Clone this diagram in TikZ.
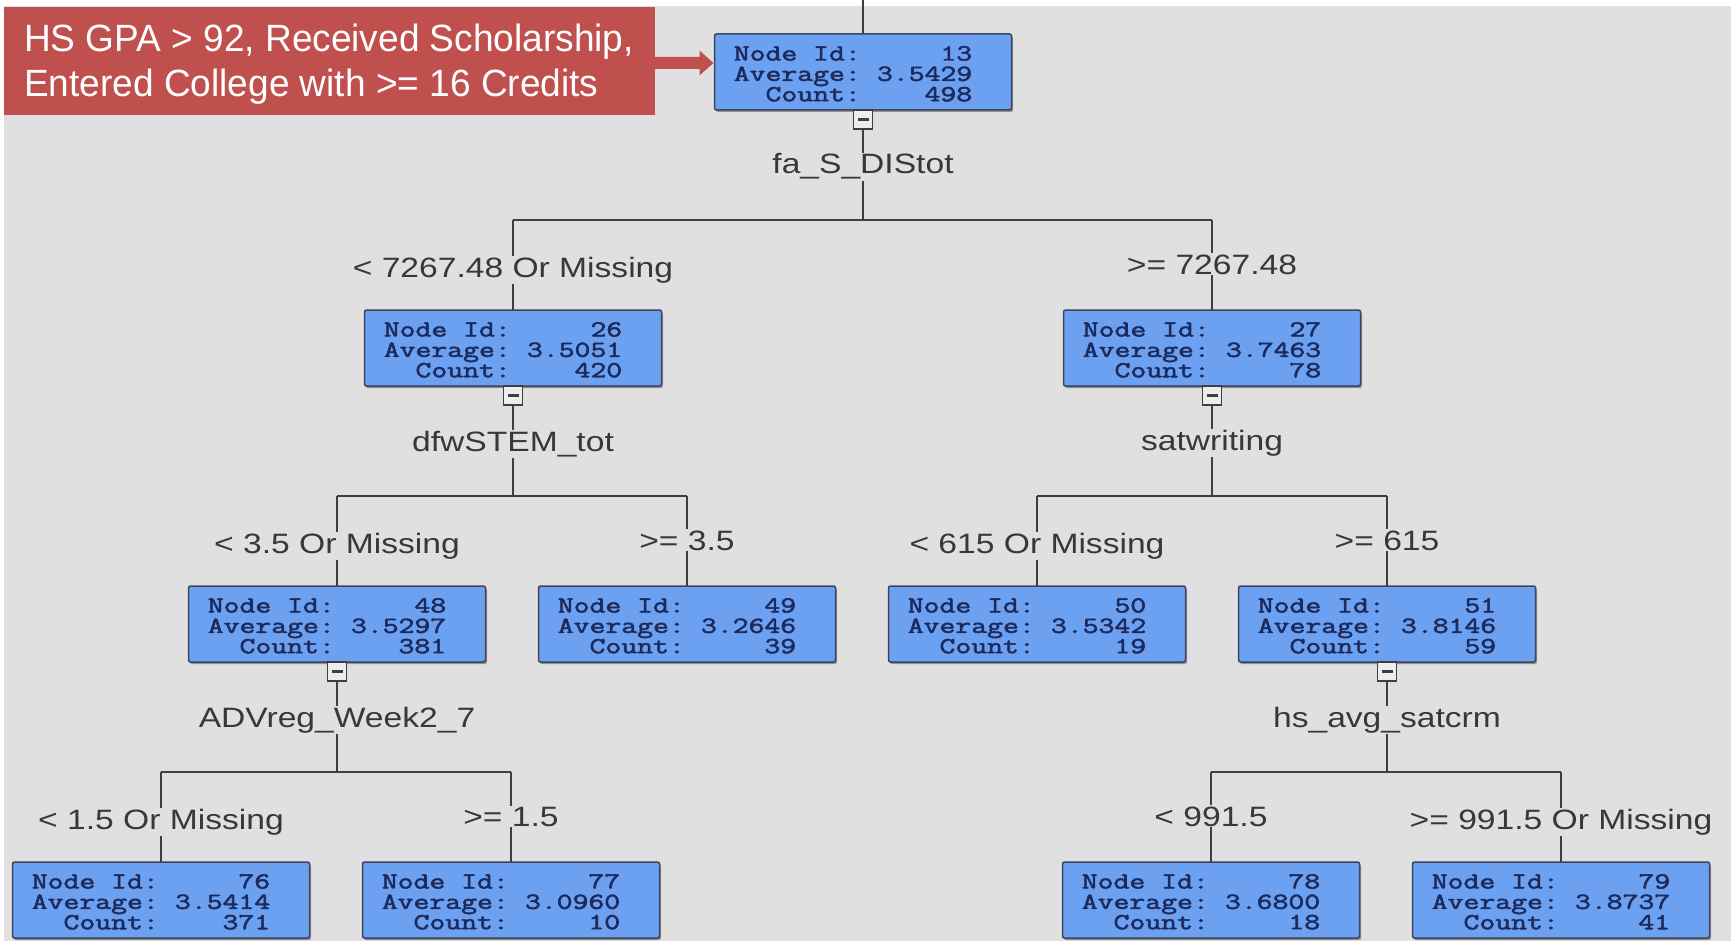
\documentclass[tikz,border=0pt]{standalone}
\usepackage{fontspec}
\usepackage{graphicx}
\usetikzlibrary{shadows}
\newfontfamily\lblfont{Liberation Sans}
\newfontfamily\boxfont{Latin Modern Mono}[FakeBold=2]

\definecolor{bggray}{HTML}{E0E0E0}
\definecolor{boxblue}{HTML}{6CA0F0}
\definecolor{boxedge}{HTML}{3A4660}
\definecolor{boxtext}{HTML}{1C2A5C}
\definecolor{linegray}{HTML}{3F3F3F}
\definecolor{lbltext}{HTML}{383838}
\definecolor{calloutred}{HTML}{C0504D}

% statistics block of a tree node
\newcommand{\stat}[3]{\scalebox{1.34}[1]{\begin{tabular}[t]{@{}r@{\hspace{0.525em}}r@{}}Node Id:&#1\\Average:&#2\\Count:&#3\end{tabular}}\hspace*{20pt}}
% stretched label text
\newcommand{\lb}[1]{\scalebox{1.2}[1]{#1}}

\begin{document}
\begin{tikzpicture}[x=1pt,y=-1pt,
  tbox/.style={rectangle, rounded corners=2pt, minimum width=297pt, minimum height=76pt,
    inner xsep=0pt, inner ysep=0pt, outer sep=0pt, text height=26.5pt, text depth=49.5pt,
    fill=boxblue, draw=boxedge, line width=1.5pt,
    text=boxtext, font=\boxfont\fontsize{23}{20}\selectfont,
    drop shadow={shadow xshift=1.5pt, shadow yshift=-2pt, fill=black, opacity=0.35}},
  minus/.style={rectangle, minimum width=19pt, minimum height=19pt, inner sep=0pt,
    outer sep=0pt, fill=white!93!black, draw=linegray, line width=1.8pt,
    path picture={\fill[linegray] ([xshift=-5.5pt,yshift=-1.2pt]path picture bounding box.center)
      rectangle ([xshift=5.5pt,yshift=1.2pt]path picture bounding box.center);}},
  lbl/.style={anchor=base, inner sep=1pt, fill=bggray, text=lbltext,
    font=\lblfont\fontsize{28}{30}\selectfont},
  conn/.style={draw=linegray, line width=2.5pt},
  callout/.style={rectangle, fill=calloutred, text=white, outer sep=0pt,
    font=\lblfont\fontsize{38}{45}\selectfont}]

\useasboundingbox (0,0) rectangle (1731,941);
\fill[white] (0,0) rectangle (1731,941);
\fill[bggray] (4,6) rectangle (1731,941);

% tree nodes
\node[tbox] (n13) at (863,72)   {\stat{13}{3.5429}{498}};
\node[tbox] (n26) at (513,348)  {\stat{26}{3.5051}{420}};
\node[tbox] (n27) at (1212,348) {\stat{27}{3.7463}{78}};
\node[tbox] (n48) at (337,624)  {\stat{48}{3.5297}{381}};
\node[tbox] (n49) at (687,624)  {\stat{49}{3.2646}{39}};
\node[tbox] (n50) at (1037,624) {\stat{50}{3.5342}{19}};
\node[tbox] (n51) at (1387,624) {\stat{51}{3.8146}{59}};
\node[tbox] (n76) at (161,900)  {\stat{76}{3.5414}{371}};
\node[tbox] (n77) at (511,900)  {\stat{77}{3.0960}{10}};
\node[tbox] (n78) at (1211,900) {\stat{78}{3.6800}{18}};
\node[tbox] (n79) at (1561,900) {\stat{79}{3.8737}{41}};

% collapse buttons
\node[minus, anchor=north] (m13) at (n13.south) {};
\node[minus, anchor=north] (m26) at (n26.south) {};
\node[minus, anchor=north] (m27) at (n27.south) {};
\node[minus, anchor=north] (m48) at (n48.south) {};
\node[minus, anchor=north] (m51) at (n51.south) {};

% split variables
\node[lbl] (s13) at (863,174)  {\lb{fa\_S\_DIStot}};
\node[lbl] (s26) at (513,451)  {\lb{dfwSTEM\_tot}};
\node[lbl] (s27) at (1212,450) {\lb{satwriting}};
\node[lbl] (s48) at (337,727)  {\lb{ADVreg\_Week2\_7}};
\node[lbl] (s51) at (1387,727) {\lb{hs\_avg\_satcrm}};

% junctions
\coordinate (top) at (863,0);
\coordinate (j13) at (863,220);
\coordinate (j26) at (513,496);
\coordinate (j27) at (1212,496);
\coordinate (j48) at (337,772);
\coordinate (j51) at (1387,772);

% branch conditions
\node[lbl] (b26) at (513,277)  {\lb{< 7267.48 Or Missing}};
\node[lbl] (b27) at (1212,274) {\lb{>= 7267.48}};
\node[lbl] (b48) at (337,553)  {\lb{< 3.5 Or Missing}};
\node[lbl] (b49) at (687,550)  {\lb{>= 3.5}};
\node[lbl] (b50) at (1037,553) {\lb{< 615 Or Missing}};
\node[lbl] (b51) at (1387,550) {\lb{>= 615}};
\node[lbl] (b76) at (161,829)  {\lb{< 1.5 Or Missing}};
\node[lbl] (b77) at (511,826)  {\lb{>= 1.5}};
\node[lbl] (b78) at (1211,826) {\lb{< 991.5}};
\node[lbl] (b79) at (1561,829) {\lb{>= 991.5 Or Missing}};

% connectors
\draw[conn] (top) -- (n13);
\foreach \p/\l/\r in {13/26/27, 26/48/49, 27/50/51, 48/76/77, 51/78/79}{
  \draw[conn] (m\p) -- (s\p);
  \draw[conn] (s\p) -- (j\p);
  \draw[conn] (b\l |- j\p) -- (b\r |- j\p);
  \draw[conn] (b\l |- j\p) -- (b\l);
  \draw[conn] (b\r |- j\p) -- (b\r);
  \draw[conn] (b\l) -- (n\l);
  \draw[conn] (b\r) -- (n\r);
}

% callout
\node[callout, anchor=north west, inner xsep=20pt, inner ysep=0pt, text height=45pt, text depth=63pt]
  (note) at (4,7) {\makebox[611pt][l]{\scalebox{0.975}[1]{\begin{tabular}[t]{@{}l@{}}HS GPA > 92, Received Scholarship,\\Entered College with >= 16 Credits\end{tabular}}}};
\coordinate (a0) at ([yshift=-2pt]note.east);
\coordinate (a1) at (n13.west |- a0);
\fill[calloutred] ([yshift=6pt]a0) -- ([xshift=-15pt,yshift=6pt]a1) -- ([xshift=-15pt,yshift=12.5pt]a1)
  -- ([xshift=-1pt]a1) -- ([xshift=-15pt,yshift=-12.5pt]a1) -- ([xshift=-15pt,yshift=-6pt]a1)
  -- ([yshift=-6pt]a0) -- cycle;
\end{tikzpicture}
\end{document}
